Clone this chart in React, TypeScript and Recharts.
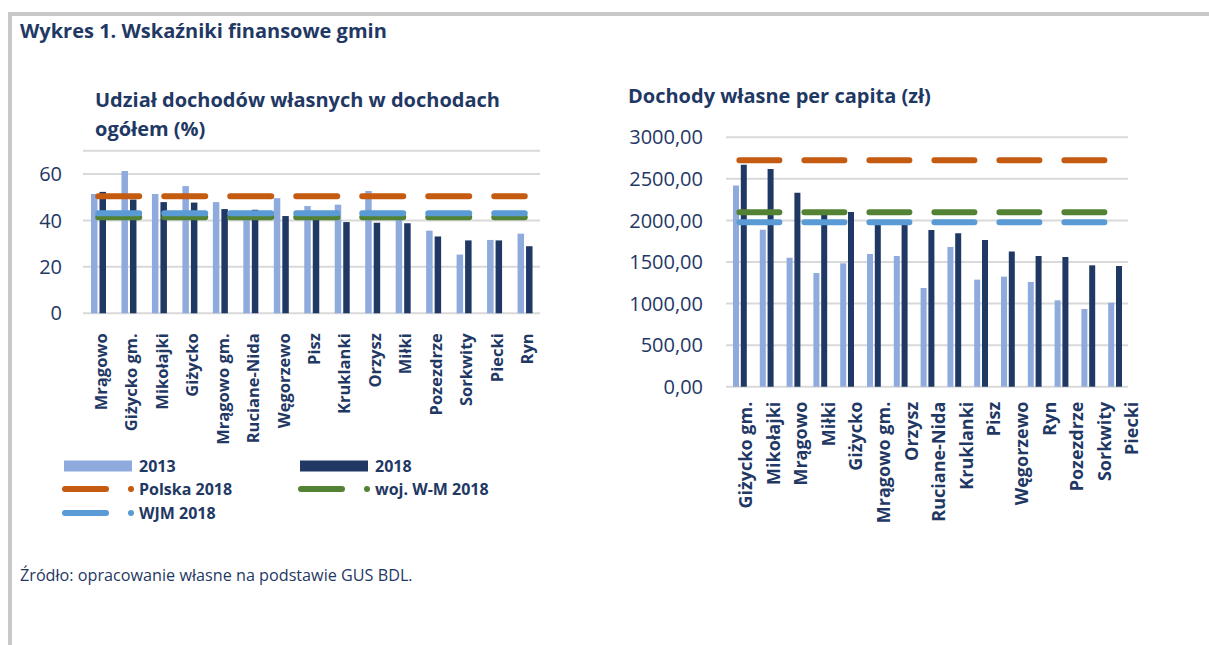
import React from "react";
import { ComposedChart, Bar, Line, XAxis, YAxis, CartesianGrid } from "recharts";

// ---------- data ----------
const leftCategories = ["Mrągowo", "Giżycko gm.", "Mikołajki", "Giżycko", "Mrągowo gm.", "Ruciane-Nida", "Węgorzewo", "Pisz", "Kruklanki", "Orzysz", "Miłki", "Pozezdrze", "Sorkwity", "Piecki", "Ryn"];
const left2013 = [51.4, 61.3, 51.4, 54.8, 47.9, 42.5, 49.6, 46.2, 46.8, 52.7, 42.0, 35.6, 25.3, 31.6, 34.3];
const left2018 = [52.3, 49.0, 47.9, 47.7, 44.9, 44.6, 41.9, 40.2, 39.3, 39.0, 38.8, 33.1, 31.4, 31.4, 28.9];
const leftPolska = 50.4;
const leftWM = 41.4;
const leftWJM = 43.1;
const leftTicks = [0, 20, 40, 60];

const rightCategories = ["Giżycko gm.", "Mikołajki", "Mrągowo", "Miłki", "Giżycko", "Mrągowo gm.", "Orzysz", "Ruciane-Nida", "Kruklanki", "Pisz", "Węgorzewo", "Ryn", "Pozezdrze", "Sorkwity", "Piecki"];
const right2013 = [2419, 1889, 1552, 1368, 1484, 1596, 1572, 1187, 1681, 1288, 1324, 1260, 1039, 935, 1011];
const right2018 = [2671, 2619, 2334, 2066, 2102, 1965, 1955, 1885, 1845, 1765, 1625, 1572, 1560, 1460, 1452];
const rightPolska = 2724;
const rightWM = 2098;
const rightWJM = 1978;
const rightTicks = [0, 500, 1000, 1500, 2000, 2500, 3000];

const legendItems = [
  { name: "2013", kind: "bar", color: "#8FAADC" },
  { name: "2018", kind: "bar", color: "#203864" },
  { name: "Polska 2018", kind: "line", color: "#C55A11" },
  { name: "woj. W-M 2018", kind: "line", color: "#548235" },
  { name: "WJM 2018", kind: "line", color: "#5B9BD5" },
];

const NAVY = "#1F3864";
const FONT = "'Open Sans', sans-serif";
const C2013 = "#8FAADC";
const C2018 = "#203864";
const CPL = "#C55A11";
const CWM = "#548235";
const CWJM = "#5B9BD5";
const GRID = "#D9D9D9";

const leftData = leftCategories.map((c, i) => ({
  name: c, v2013: left2013[i], v2018: left2018[i], pl: leftPolska, wm: leftWM, wjm: leftWJM,
}));
const rightData = rightCategories.map((c, i) => ({
  name: c, v2013: right2013[i], v2018: right2018[i], pl: rightPolska, wm: rightWM, wjm: rightWJM,
}));

const makeTick = (fontSize: number, gap: number, shift: number) => (props: any) => {
  const { x, y, payload } = props;
  return (
    <g transform={`translate(${x + shift},${y + gap})`}>
      <text transform="rotate(-90)" textAnchor="end" dominantBaseline="central"
        fontFamily={FONT} fontWeight={700} fontSize={fontSize} fill={NAVY}>
        {payload.value}
      </text>
    </g>
  );
};

const fmtPL = (v: number) => v.toFixed(2).replace(".", ",");

const refLines = (dash: string) => [
  <Line key="pl" dataKey="pl" xAxisId="m" stroke={CPL} strokeWidth={6} strokeLinecap="round" strokeDasharray={dash} dot={false} isAnimationActive={false} />,
  <Line key="wm" dataKey="wm" xAxisId="m" stroke={CWM} strokeWidth={6} strokeLinecap="round" strokeDasharray={dash} dot={false} isAnimationActive={false} />,
  <Line key="wjm" dataKey="wjm" xAxisId="m" stroke={CWJM} strokeWidth={6} strokeLinecap="round" strokeDasharray={dash} dot={false} isAnimationActive={false} />,
];

const LegendBox = () => {
  const pos = [
    { x: 62, y: 466 }, { x: 298, y: 466 },
    { x: 62, y: 489 }, { x: 298, y: 489 },
    { x: 62, y: 513 },
  ];
  return (
    <svg width={560} height={540} style={{ position: "absolute", left: 0, top: 0, pointerEvents: "none" }}>
      {legendItems.map((it, i) => {
        const p = pos[i];
        return (
          <g key={it.name}>
            {it.kind === "bar" ? (
              <rect x={p.x + 2} y={p.y - 5.5} width={68} height={11} fill={it.color} />
            ) : (
              <>
                <line x1={p.x + 3} x2={p.x + 44} y1={p.y} y2={p.y} stroke={it.color} strokeWidth={6} strokeLinecap="round" />
                <circle cx={p.x + 69} cy={p.y} r={3} fill={it.color} />
              </>
            )}
            <text x={p.x + 77} y={p.y} dominantBaseline="central" fontFamily={FONT} fontWeight={700} fontSize={16} fill={NAVY}>
              {it.name}
            </text>
          </g>
        );
      })}
    </svg>
  );
};

export default function App() {
  return (
    <div style={{ position: "absolute", left: 0, top: 0, width: 1209, height: 645, background: "#fff", overflow: "hidden", fontFamily: FONT }}>
      {/* frame */}
      <div style={{ position: "absolute", left: 8, top: 12, width: 1201, height: 3.5, background: "#C8C8C8" }} />
      <div style={{ position: "absolute", left: 8, top: 12, width: 3.5, height: 633, background: "#C8C8C8" }} />

      <div style={{ position: "absolute", left: 20, top: 17, fontSize: 20, fontWeight: 700, color: NAVY, whiteSpace: "nowrap" }}>
        Wykres 1. Wskaźniki finansowe gmin
      </div>

      <div style={{ position: "absolute", left: 95, top: 85, fontSize: 20, fontWeight: 700, color: NAVY, lineHeight: "29px", whiteSpace: "nowrap" }}>
        Udział dochodów własnych w dochodach<br />ogółem (%)
      </div>

      <div style={{ position: "absolute", left: 628, top: 82, fontSize: 20, fontWeight: 700, color: NAVY, whiteSpace: "nowrap" }}>
        Dochody własne per capita (zł)
      </div>

      {/* left chart */}
      <div style={{ position: "absolute", left: 0, top: 0 }}>
        <ComposedChart width={560} height={470} data={leftData} barSize={6.5} barGap={2}
          margin={{ top: 150.8, left: 23, right: 20, bottom: 16.7 }}>
          <CartesianGrid vertical={false} stroke={GRID} strokeWidth={2} xAxisId="m" />
          <XAxis xAxisId="m" dataKey="name" type="category" axisLine={false} tickLine={false} tickSize={0} tickMargin={0}
            height={140} interval={0} tick={makeTick(16.5, 20, 2)} />
          <YAxis type="number" domain={[0, 70]} ticks={leftTicks} width={60} axisLine={false} tickLine={false} tickSize={0} tickMargin={21}
            tick={{ fontFamily: FONT, fontSize: 20, fill: NAVY }} />
          <Bar dataKey="v2013" xAxisId="m" fill={C2013} isAnimationActive={false} />
          <Bar dataKey="v2018" xAxisId="m" fill={C2018} isAnimationActive={false} />
          {refLines("41 25")}
        </ComposedChart>
      </div>

      <LegendBox />

      {/* right chart */}
      <div style={{ position: "absolute", left: 600, top: 0 }}>
        <ComposedChart width={560} height={540} data={rightData} barSize={6} barGap={1.8}
          margin={{ top: 137.3, left: 46, right: 32, bottom: 13.3 }}>
          <CartesianGrid vertical={false} stroke={GRID} strokeWidth={2} xAxisId="m" />
          <XAxis xAxisId="m" dataKey="name" type="category" hide />
          <XAxis xAxisId="lbl" dataKey="name" type="category" axisLine={false} tickLine={false} tickSize={0} tickMargin={0}
            height={140} padding={{ left: 5.2, right: -17.3 }} interval={0} tick={makeTick(18, 15, 0)} />
          <YAxis type="number" domain={[0, 3000]} ticks={rightTicks} width={80} axisLine={false} tickLine={false} tickSize={0} tickMargin={23}
            tickFormatter={fmtPL} tick={{ fontFamily: FONT, fontSize: 20, fill: NAVY }} />
          <Bar dataKey="v2013" xAxisId="m" fill={C2013} isAnimationActive={false} />
          <Bar dataKey="v2018" xAxisId="m" fill={C2018} isAnimationActive={false} />
          {refLines("40 25")}
        </ComposedChart>
      </div>

      <div style={{ position: "absolute", left: 20, top: 564, fontSize: 16.2, color: NAVY, whiteSpace: "nowrap" }}>
        Źródło: opracowanie własne na podstawie GUS BDL.
      </div>
    </div>
  );
}
